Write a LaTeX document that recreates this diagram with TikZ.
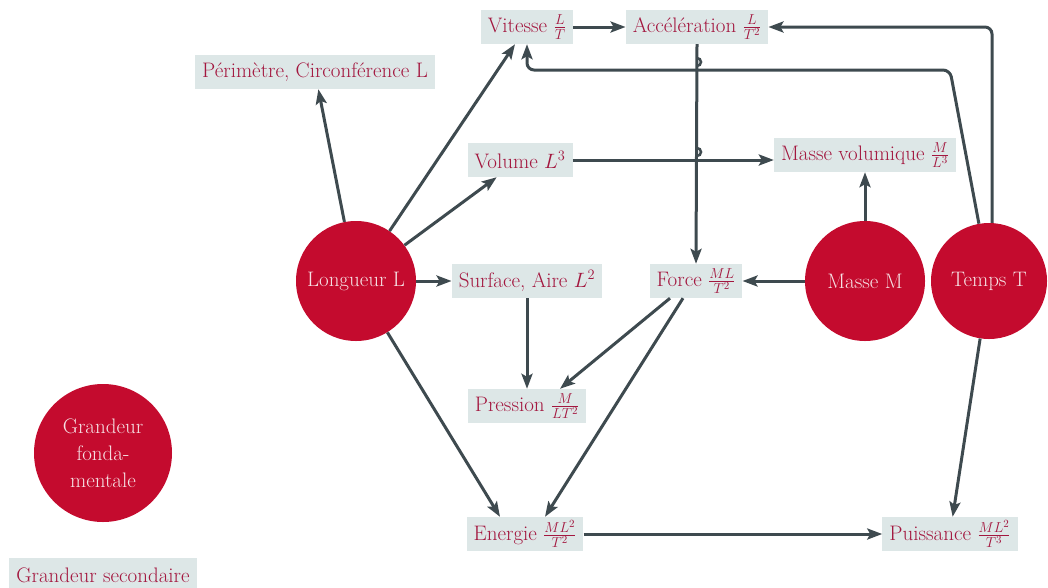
\documentclass[tikz,border=0pt]{standalone}
\usetikzlibrary{arrows.meta,calc}
\definecolor{fondred}{HTML}{C40B2E}
\definecolor{boxfill}{HTML}{DDE7E7}
\definecolor{boxtext}{HTML}{A3173F}
\definecolor{circtext}{HTML}{F6E1E4}
\definecolor{linecol}{HTML}{3E4A4F}
\tikzset{
  fund/.style={circle, fill=fondred, text=circtext, minimum size=120pt, inner sep=0pt, font=\fontsize{21}{27}\selectfont, align=center},
  second/.style={rectangle, fill=boxfill, text=boxtext, minimum height=34pt, inner xsep=7pt, inner ysep=3pt, font=\fontsize{21}{24}\selectfont},
  conn/.style={draw=linecol, line width=3pt, -{Stealth[length=15pt,width=11pt,inset=3pt]}},
  plain/.style={draw=linecol, line width=3pt}
}
\begin{document}
\begin{tikzpicture}[x=1pt,y=-1pt]
\useasboundingbox (0,0) rectangle (1048,587);
% fundamental quantities
\node[fund] (lon) at (356,281) {Longueur L};
\node[fund] (masse) at (865,281) {Masse M};
\node[fund, minimum size=116pt] (temps) at (989,281) {Temps T};
\node[fund, minimum size=138pt] (fond) at (103,453) {Grandeur\\fonda-\\mentale};
% secondary quantities
\node[second] (vit) at (527,27) {Vitesse $\frac{L}{T}$};
\node[second] (acc) at (697,27) {Accélération $\frac{L}{T^2}$};
\node[second] (per) at (315,72) {Périmètre, Circonférence L};
\node[second] (vol) at (520,160) {Volume $L^3$};
\node[second] (mv) at (865,155) {Masse volumique $\frac{M}{L^3}$};
\node[second] (surf) at (527,281) {Surface, Aire $L^2$};
\node[second] (force) at (696,281) {Force $\frac{ML}{T^2}$};
\node[second] (pres) at (527,406) {Pression $\frac{M}{LT^2}$};
\node[second] (ener) at (525,534) {Energie $\frac{ML^2}{T^2}$};
\node[second] (puis) at (950,534) {Puissance $\frac{ML^2}{T^3}$};
\node[second, anchor=base] (sec) at (103,582) {Grandeur secondaire};
% connectors
\coordinate (c1) at (950,70);
\draw[conn] (lon) -- (per);
\draw[conn] (lon) -- ([xshift=-12pt]vit.south);
\draw[conn] (lon) -- (vol);
\draw[conn] (lon) -- (surf);
\draw[conn] (lon) -- ([xshift=-25pt]ener.north);
\draw[conn] (surf) -- (pres);
\draw[conn] ([xshift=-26pt]force.south) -- ([xshift=33pt]pres.north);
\draw[conn] ([xshift=-13pt]force.south) -- ([xshift=20pt]ener.north);
\draw[conn] (acc.south) -- (force.north);
\draw[conn] (masse) -- (force);
\draw[conn] (masse) -- (mv);
\draw[conn] (vol.east) -- (vol.east -| mv.west);
\draw[conn] (vit) -- (acc);
\draw[conn, rounded corners=7pt] ([xshift=3pt]temps.north) |- (acc.east);
\draw[conn, rounded corners=7pt] (temps.100) -- (c1) -- (vit.south |- c1) -- (vit.south);
\draw[conn] (temps) -- (puis);
\draw[conn] (ener) -- (puis);
% line jumps
\draw[plain, line width=2.5pt] (697,66) arc (90:-90:4);
\draw[plain, line width=2.5pt] (697,156) arc (90:-90:4);
\end{tikzpicture}
\end{document}
